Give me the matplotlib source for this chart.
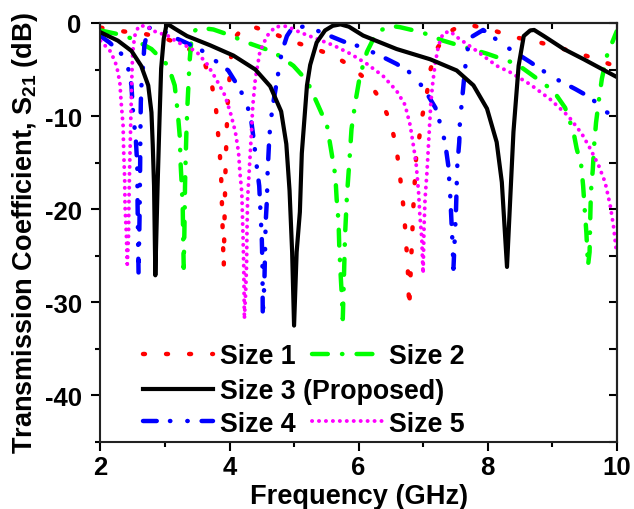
import matplotlib
matplotlib.use('Agg')
import matplotlib.pyplot as plt
from matplotlib.ticker import MultipleLocator

plt.rcParams['font.family'] = ['Liberation Sans', 'DejaVu Sans']
plt.rcParams['font.weight'] = 'bold'
plt.rcParams['axes.unicode_minus'] = False
plt.rcParams['lines.scale_dashes'] = False
plt.rcParams['mathtext.fontset'] = 'custom'
plt.rcParams['mathtext.rm'] = 'Liberation Sans:bold'
plt.rcParams['mathtext.bf'] = 'Liberation Sans:bold'
plt.rcParams['mathtext.it'] = 'Liberation Sans:bold'

# ---------------- data ----------------
labels = ['Size 1', 'Size 2', 'Size 3 (Proposed)', 'Size 4', 'Size 5']

f1 = [2.0, 2.35, 2.7, 3.02, 3.34, 3.62, 3.73, 3.79, 3.82, 3.85, 3.87, 3.88, 3.89, 3.90, 3.91,
      3.92, 3.935, 3.955, 3.97, 4.02, 4.09, 4.2, 4.32, 4.67, 4.98, 5.3, 5.64, 5.91, 6.15, 6.36,
      6.50, 6.58, 6.63, 6.67, 6.71, 6.73, 6.76, 6.77, 6.785, 6.80, 6.82, 6.85, 6.89, 6.94, 6.99,
      7.06, 7.11, 7.21, 7.39, 7.55, 7.75, 8.09, 8.40, 8.76, 9.02, 9.36, 9.69, 10.0]
s1 = [-0.5, -0.9, -1.2, -1.7, -2.6, -4.4, -6.8, -9.2, -11.7, -14.1, -16.5, -18.9, -21.4, -23.9, -26.3,
      -22.0, -16.4, -11.7, -8.9, -3.8, -1.5, -0.6, -0.3, -1.1, -2.0, -2.7, -3.6, -4.8, -6.3, -8.45,
      -10.8, -13.2, -15.7, -18.2, -20.7, -23.2, -25.7, -28.0, -30.6, -28.0, -24.6, -19.6, -14.6, -12.3, -9.9,
      -7.5, -5.1, -2.8, -1.0, -0.4, -0.25, -0.8, -1.5, -2.0, -2.5, -3.15, -3.9, -4.7]

f2 = [2.0, 2.27, 2.5, 2.79, 3.05, 3.15, 3.2, 3.23, 3.24, 3.26, 3.275, 3.28, 3.29, 3.30, 3.31,
      3.32, 3.33, 3.345, 3.36, 3.38, 3.41, 3.45, 3.52, 3.75, 4.0, 4.27, 4.68, 4.99, 5.2, 5.35,
      5.51, 5.58, 5.64, 5.66, 5.69, 5.70, 5.72, 5.74, 5.755, 5.775, 5.79, 5.82, 5.86, 5.89, 5.95,
      6.02, 6.13, 6.28, 6.49, 6.64, 6.98, 7.31, 7.99, 8.45, 8.71, 9.02, 9.2, 9.33, 9.38, 9.45,
      9.48, 9.50, 9.53, 9.555, 9.58, 9.59, 9.60, 9.63, 9.65, 9.68, 9.72, 9.77, 9.85, 9.93, 10.0]
s2 = [-0.8, -1.2, -1.7, -2.8, -4.6, -6.7, -9.8, -12.3, -14.9, -17.5, -20.0, -22.5, -26.3, -22.5, -17.5,
      -14.6, -12.1, -9.2, -7.1, -4.2, -1.7, -0.9, -0.5, -0.7, -1.3, -2.1, -3.1, -4.6, -6.2, -8.5,
      -11.0, -13.9, -16.4, -18.9, -21.4, -23.9, -26.8, -29.3, -31.8, -26.8, -22.8, -18.5, -14.6, -11.4, -8.5,
      -5.7, -3.1, -1.0, -0.3, -0.45, -1.0, -1.9, -3.3, -4.4, -5.7, -7.3, -9.1, -11.7, -13.5, -15.3,
      -17.5, -19.6, -22.5, -26.1, -24.6, -21.1, -18.2, -15.7, -13.2, -10.7, -8.5, -6.0, -3.5, -2.1, -0.9]

f3 = [2.0, 2.27, 2.48, 2.63, 2.74, 2.79, 2.81, 2.83, 2.85, 2.885, 2.915, 2.94, 2.98, 3.02, 3.06,
      3.15, 3.34, 3.7, 4.06, 4.4, 4.63, 4.8, 4.88, 4.93, 4.97, 5.0, 5.04, 5.09, 5.12, 5.2,
      5.25, 5.35, 5.48, 5.6, 5.72, 5.85, 6.07, 6.59, 7.11, 7.52, 7.78, 7.99, 8.14, 8.22, 8.30,
      8.35, 8.40, 8.48, 8.56, 8.66, 8.72, 8.87, 9.18, 9.49, 10.0]
s3 = [-1.0, -1.9, -3.0, -4.6, -6.7, -9.6, -13.1, -17.5, -27.1, -17.5, -10.3, -4.9, -1.7, -0.3, -0.2,
      -0.6, -1.4, -2.4, -3.5, -5.0, -6.8, -9.5, -13.0, -18.0, -24.6, -32.5, -24.6, -20.3, -14.0, -6.7,
      -4.5, -2.1, -0.8, -0.3, -0.15, -0.4, -1.35, -2.8, -3.9, -5.1, -6.7, -9.2, -12.8, -17.1, -26.2,
      -18.9, -11.7, -4.6, -1.4, -0.8, -0.75, -1.4, -2.8, -3.9, -5.8]

f4 = [2.0, 2.14, 2.32, 2.43, 2.48, 2.50, 2.55, 2.57, 2.575, 2.58, 2.59, 2.605, 2.615, 2.62, 2.625,
      2.635, 2.66, 2.68, 2.74, 2.8, 2.95, 3.19, 3.54, 3.98, 4.16, 4.27, 4.34, 4.38, 4.42, 4.46,
      4.48, 4.50, 4.51, 4.515, 4.54, 4.56, 4.58, 4.59, 4.61, 4.63, 4.67, 4.73, 4.81, 4.89, 4.96,
      5.2, 5.4, 5.77, 6.05, 6.33, 6.59, 6.78, 7.0, 7.19, 7.26, 7.34, 7.39, 7.42, 7.44, 7.46,
      7.47, 7.49, 7.51, 7.52, 7.53, 7.56, 7.57, 7.6, 7.65, 7.70, 7.75, 7.93, 8.30, 8.66, 9.0,
      9.36, 9.59, 9.85, 10.0]
s4 = [-1.4, -2.1, -3.3, -4.9, -6.7, -9.2, -12.8, -15.3, -19.6, -22.0, -26.9, -21.0, -15.0, -11.0, -8.5,
      -6.7, -4.6, -2.4, -0.6, -0.4, -0.75, -1.7, -2.8, -5.1, -7.1, -8.7, -10.7, -12.8, -15.3, -17.5,
      -20.3, -23.2, -26.1, -31.5, -27.9, -21.4, -18.9, -16.0, -13.2, -11.0, -8.9, -6.4, -3.1, -1.4, -0.65,
      -0.3, -0.95, -2.0, -2.6, -3.5, -4.4, -5.25, -6.9, -9.1, -10.7, -12.8, -15.3, -18.5, -21.4, -24.3,
      -26.4, -23.2, -20.0, -17.5, -15.3, -12.8, -10.7, -8.5, -4.9, -2.4, -1.5, -0.75, -2.6, -4.2, -5.8,
      -7.1, -8.0, -9.6, -10.2]

f5 = [2.0, 2.16, 2.25, 2.30, 2.32, 2.35, 2.36, 2.375, 2.38, 2.40, 2.415, 2.435, 2.44, 2.45, 2.46,
      2.47, 2.48, 2.49, 2.50, 2.53, 2.59, 2.7, 2.84, 3.05, 3.2, 3.31, 3.49, 3.65, 3.79, 3.93,
      4.02, 4.09, 4.14, 4.16, 4.19, 4.20, 4.21, 4.22, 4.225, 4.23, 4.25, 4.265, 4.27, 4.28, 4.31,
      4.34, 4.36, 4.40, 4.47, 4.58, 4.71, 4.89, 5.09, 5.35, 5.61, 5.87, 6.13, 6.38, 6.59, 6.72,
      6.80, 6.85, 6.89, 6.93, 6.95, 6.98, 6.99, 7.0, 7.015, 7.03, 7.06, 7.08, 7.10, 7.12, 7.15,
      7.19, 7.24, 7.31, 7.42, 7.52, 7.83, 8.14, 8.35, 8.66, 8.97, 9.25, 9.46, 9.59, 9.72, 9.82,
      9.90, 9.95, 10.0]
s5 = [-1.9, -3.1, -4.6, -6.4, -8.5, -11.0, -13.9, -16.8, -19.6, -22.5, -25.9, -22.8, -19.6, -16.0, -13.2,
      -10.3, -7.4, -4.9, -3.1, -1.4, -0.35, -0.3, -0.9, -1.4, -2.1, -2.4, -3.1, -4.4, -6.0, -7.8,
      -9.8, -11.7, -13.9, -16.0, -18.2, -20.7, -23.2, -26.1, -28.9, -31.8, -28.9, -25.7, -22.5, -18.9, -15.3,
      -11.7, -8.9, -6.0, -3.1, -1.4, -0.4, -0.35, -1.0, -1.7, -2.4, -3.3, -4.4, -5.7, -7.3, -8.8,
      -11.0, -13.2, -15.0, -18.2, -20.7, -23.2, -25.3, -26.9, -21.8, -18.9, -16.0, -13.5, -11.0, -8.5, -6.4,
      -4.2, -2.4, -1.1, -0.9, -1.5, -3.0, -4.6, -5.3, -6.6, -8.2, -10.0, -11.9, -13.5, -15.3, -17.1,
      -19.6, -21.8, -24.8]

x_ticks = [2, 4, 6, 8, 10]
y_ticks = [0, -10, -20, -30, -40]

# ---------------- figure ----------------
fig = plt.figure(figsize=(6.34, 5.10), dpi=100)
ax = fig.add_axes([0.1585, 0.1314, 0.8142, 0.8216])

l1, = ax.plot(f1, s1, color='#FF0000', lw=3.2, dashes=(1.4, 15.2),
              dash_capstyle='round', label=labels[0])
l2, = ax.plot(f2, s2, color='#00FF00', lw=3.2, dashes=(11.4, 10.2, 0.3, 10.2),
              dash_capstyle='round', label=labels[1])
l4, = ax.plot(f4, s4, color='#0000FF', lw=3.2, dashes=(9.9, 9.5, 0.3, 12.2, 0.3, 10.0),
              dash_capstyle='round', label=labels[3])
l5, = ax.plot(f5, s5, color='#FF00FF', lw=2.8, dashes=(0.1, 4.9),
              dash_capstyle='round', label=labels[4])
l3, = ax.plot(f3, s3, color='black', lw=3.0, solid_joinstyle='round', label=labels[2])

ax.set_xlim(2, 10)
ax.set_ylim(-45, 0)
ax.set_xticks(x_ticks)
ax.set_yticks(y_ticks)
ax.xaxis.set_minor_locator(MultipleLocator(1))
ax.yaxis.set_minor_locator(MultipleLocator(5))
ax.tick_params(which='major', direction='out', length=6.5, width=1.5, labelsize=18.5, pad=3)
ax.tick_params(which='minor', direction='out', length=3.5, width=1.5)
ax.tick_params(axis='y', which='major', pad=7)
for sp in ax.spines.values():
    sp.set_linewidth(1.5)
    sp.set_color('#222222')

secx = ax.secondary_xaxis('top')
secx.set_xticks(x_ticks)
secx.xaxis.set_minor_locator(MultipleLocator(1))
secx.tick_params(which='both', direction='in', length=4, width=1.5, labeltop=False)
secy = ax.secondary_yaxis('right')
secy.set_yticks(y_ticks)
secy.yaxis.set_minor_locator(MultipleLocator(5))
secy.tick_params(which='major', direction='in', length=6, width=1.5, labelright=False)
secy.tick_params(which='minor', direction='in', length=6, width=1.5)
for s in (secx, secy):
    for sp in s.spines.values():
        sp.set_linewidth(1.5)
        sp.set_color('#222222')

ax.set_xlabel('Frequency (GHz)', fontsize=19.6, fontweight='bold', labelpad=3)
ax.set_ylabel(r'Transmission Coefficient, $\mathbf{S_{21}}$ (dB)', fontsize=19.5,
              fontweight='bold', labelpad=3)

leg_kw = dict(loc='center left', frameon=False, borderpad=0, borderaxespad=0,
              handlelength=2.6, handletextpad=0.28, columnspacing=0.6,
              prop={'family': 'Liberation Sans', 'weight': 'bold', 'size': 19.3})
fig.legend(handles=[l1, l2], ncol=2, bbox_to_anchor=(0.2256, 0.300), **leg_kw)
fig.legend(handles=[l3], ncol=1, bbox_to_anchor=(0.2256, 0.231), **leg_kw)
fig.legend(handles=[l4, l5], ncol=2, bbox_to_anchor=(0.2256, 0.167), **leg_kw)

fig.savefig('out.png', dpi=100)
